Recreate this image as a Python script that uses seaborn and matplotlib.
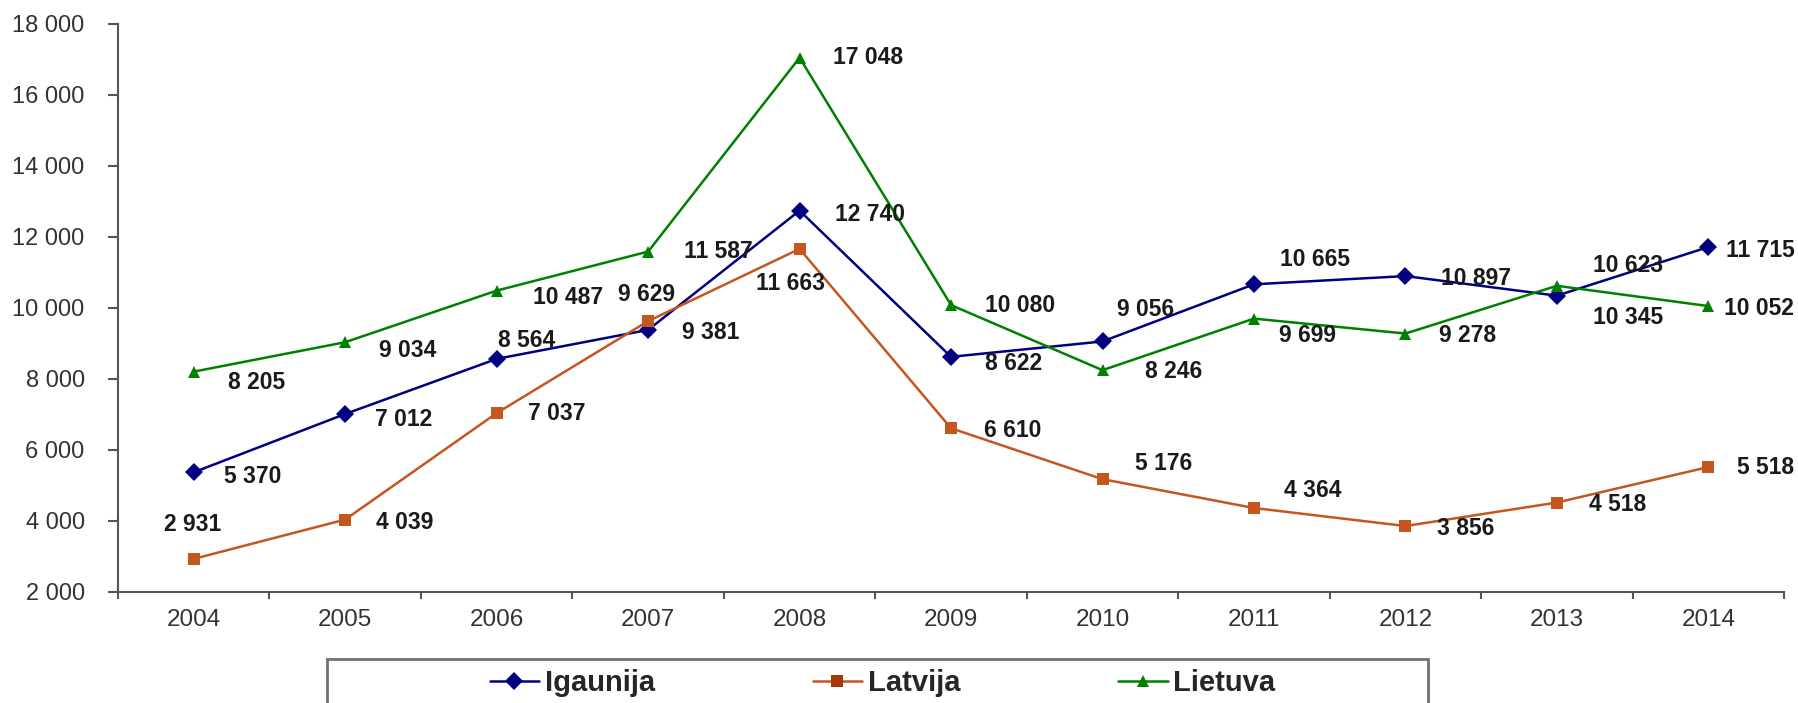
import pandas as pd
import matplotlib.pyplot as plt
import matplotlib.ticker as mticker
from matplotlib.patches import Rectangle
import seaborn as sns

# Data
years = ['2004', '2005', '2006', '2007', '2008', '2009', '2010', '2011', '2012', '2013', '2014']
igaunija = [5370, 7012, 8564, 9381, 12740, 8622, 9056, 10665, 10897, 10345, 11715]
latvija = [2931, 4039, 7037, 9629, 11663, 6610, 5176, 4364, 3856, 4518, 5518]
lietuva = [8205, 9034, 10487, 11587, 17048, 10080, 8246, 9699, 9278, 10623, 10052]
series_names = ['Igaunija', 'Latvija', 'Lietuva']

# label offsets in pixels: (dx, dy down, horizontal alignment)
offsets = {
    'Igaunija': [(30, 4, 'left'), (30, 6, 'left'), (1, -18, 'left'), (34, 3, 'left'),
                 (35, 4, 'left'), (34, 7, 'left'), (14, -32, 'left'), (26, -25, 'left'),
                 (36, 2, 'left'), (36, 22, 'left'), (18, 3, 'left')],
    'Latvija': [(-1, -34, 'center'), (31, 3, 'left'), (31, 0, 'left'), (-2, -27, 'center'),
                (-9, 35, 'center'), (33, 2, 'left'), (32, -16, 'left'), (30, -18, 'left'),
                (32, 2, 'left'), (32, 2, 'left'), (29, 0, 'left')],
    'Lietuva': [(34, 11, 'left'), (34, 8, 'left'), (36, 7, 'left'), (36, 0, 'left'),
                (33, 0, 'left'), (34, 0, 'left'), (42, 1, 'left'), (25, 17, 'left'),
                (34, 2, 'left'), (36, -20, 'left'), (16, 2, 'left')],
}

df = pd.DataFrame({'year': years, 'Igaunija': igaunija, 'Latvija': latvija, 'Lietuva': lietuva})
long_df = df.melt(id_vars='year', var_name='country', value_name='value')

colors = {'Igaunija': '#000080', 'Latvija': '#C4561E', 'Lietuva': '#008000'}
markers = {'Igaunija': 'D', 'Latvija': 's', 'Lietuva': '^'}

sns.set_theme(style="white")
plt.rcParams['font.family'] = ['Liberation Sans', 'DejaVu Sans']

fig, ax = plt.subplots(figsize=(17.99, 7.03), dpi=100)
fig.subplots_adjust(left=0.0656, right=0.9917, top=0.966, bottom=0.158)

sns.lineplot(data=long_df, x='year', y='value', hue='country', style='country',
             palette=colors, markers=markers, dashes=False, markersize=9,
             markeredgewidth=0, linewidth=1.8, sort=False, ax=ax, legend=True)

# Latvija markers are a bit darker than its line
for line in ax.get_lines():
    if line.get_label() == 'Latvija':
        line.set_markerfacecolor('#A8380A')

# data labels
for name, vals in zip(series_names, [igaunija, latvija, lietuva]):
    for i, v in enumerate(vals):
        dx, dy, ha = offsets[name][i]
        ax.annotate(f'{v:,}'.replace(',', ' '), (i, v), xytext=(dx, -dy),
                    textcoords='offset pixels', ha=ha, va='center',
                    fontsize=16.5, fontweight='bold', color='#1a1a1a')

# axes styling
ax.set_xlim(-0.5, len(years) - 0.5)
ax.set_ylim(2000, 18000)
ax.yaxis.set_major_locator(mticker.MultipleLocator(2000))
ax.yaxis.set_major_formatter(mticker.FuncFormatter(lambda v, p: f'{int(v):,}'.replace(',', ' ')))
ax.set_xticks(range(len(years)))
ax.set_xticklabels(years)
ax.set_xticks([i - 0.5 for i in range(len(years) + 1)], minor=True)
ax.tick_params(axis='x', which='major', length=0, pad=12, labelsize=17.5, labelcolor='#333333')
ax.tick_params(axis='x', which='minor', length=5, width=1.5, color='#555555', direction='out')
ax.tick_params(axis='y', which='major', length=7, width=1.5, color='#555555', direction='out',
               pad=17, labelsize=17, labelcolor='#333333')
ax.tick_params(bottom=True, left=True, which='both')
ax.set_xlabel('')
ax.set_ylabel('')
for side in ['top', 'right']:
    ax.spines[side].set_visible(False)
for side in ['left', 'bottom']:
    ax.spines[side].set_color('#555555')
    ax.spines[side].set_linewidth(1.5)

# legend below the chart, box partly cut by the figure edge
handles, labels = ax.get_legend_handles_labels()
ax.get_legend().remove()
fig.legend(handles, labels, loc='center', bbox_to_anchor=(0.4906, 0.0284), ncol=3,
           frameon=False, prop={'weight': 'bold', 'size': 21}, handlelength=1.7,
           handletextpad=0.2, columnspacing=5.4)
fig.add_artist(Rectangle((0.1818, -0.1), 0.6121, 0.1626, transform=fig.transFigure,
                         fill=False, edgecolor='#707070', linewidth=2))

plt.savefig('out.png', dpi=100)
